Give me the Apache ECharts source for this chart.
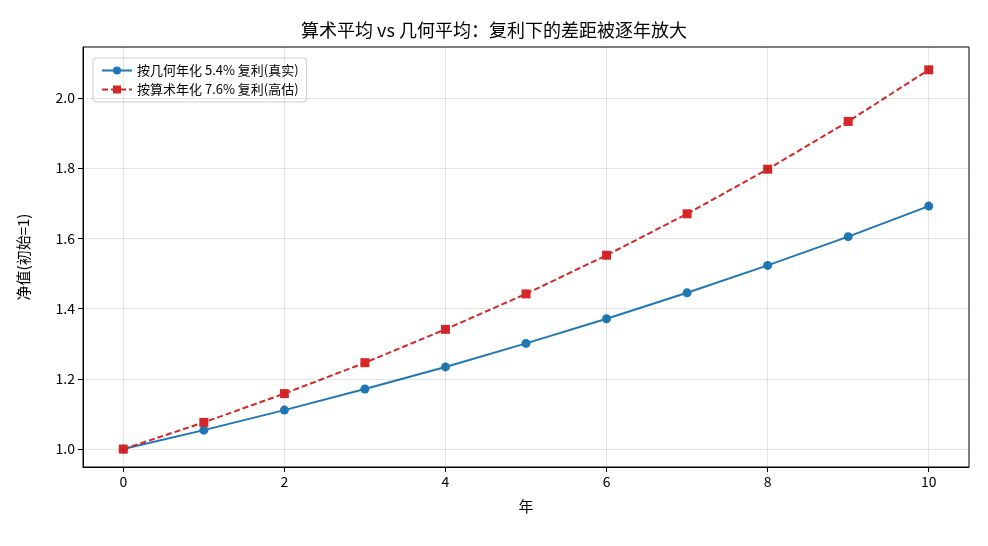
<!DOCTYPE html>
<html><head><meta charset="utf-8">
<script src="https://cdn.jsdelivr.net/npm/echarts@6/dist/echarts.min.js"></script>
<style>html,body{margin:0;padding:0;background:#fff}#c{width:988px;height:546px}</style>
</head><body><div id="c"></div>
<script>
const years = [0,1,2,3,4,5,6,7,8,9,10];
const geoValues = [1.0,1.054,1.111,1.171,1.234,1.301,1.371,1.445,1.523,1.605,1.692];
const ariValues = [1.0,1.076,1.158,1.246,1.341,1.442,1.552,1.670,1.797,1.933,2.080];
const xTicks = [0,2,4,6,8,10];
const yTicks = [1.0,1.2,1.4,1.6,1.8,2.0];
const geoName = '按几何年化 5.4% 复利(真实)';
const ariName = '按算术年化 7.6% 复利(高估)';
const F = '"Noto Sans CJK SC","DejaVu Sans",sans-serif';
const chart = echarts.init(document.getElementById('c'));
chart.setOption({
  animation:false,
  textStyle:{fontFamily:F},
  title:{text:'算术平均 vs 几何平均：复利下的差距被逐年放大',left:'center',top:16,textStyle:{fontSize:18,fontWeight:'normal',color:'#000',fontFamily:F}},
  legend:{left:93,top:58,orient:'vertical',itemGap:6,itemWidth:30,itemHeight:10,
    backgroundColor:'#fff',borderColor:'#ccc',borderWidth:1,borderRadius:3,padding:[6,8],
    textStyle:{fontSize:13,color:'#000'},
    data:[geoName,ariName]},
  grid:{left:83,right:19,top:47,bottom:79,show:true,borderColor:'#000',borderWidth:1,backgroundColor:'transparent'},
  xAxis:{type:'value',min:-0.5,max:10.5,
    name:'年',nameLocation:'middle',nameGap:32,nameTextStyle:{fontSize:15,color:'#000'},
    axisLine:{onZero:false,lineStyle:{color:'#000'}},
    axisLabel:{color:'#000',fontSize:14,customValues:xTicks},
    axisTick:{customValues:xTicks,lineStyle:{color:'#000'}},
    splitLine:{show:false}},
  yAxis:{type:'value',min:0.949,max:2.145,
    name:'净值(初始=1)',nameLocation:'middle',nameGap:52,nameTextStyle:{fontSize:15,color:'#000'},
    axisLine:{show:true,onZero:false,lineStyle:{color:'#000'}},
    axisLabel:{color:'#000',fontSize:14,customValues:yTicks,formatter:v=>v.toFixed(1)},
    axisTick:{show:true,customValues:yTicks,lineStyle:{color:'#000'}},
    splitLine:{show:false}},
  series:[
    {name:geoName,type:'line',data:years.map((x,i)=>[x,geoValues[i]]),symbol:'circle',symbolSize:9,
     lineStyle:{color:'#1f77b4',width:2},itemStyle:{color:'#1f77b4'},z:3},
    {name:ariName,type:'line',data:years.map((x,i)=>[x,ariValues[i]]),symbol:'rect',symbolSize:9,
     lineStyle:{color:'#d62728',width:2,type:[6,3]},itemStyle:{color:'#d62728'},z:4},
    {type:'line',data:[],silent:true,
     markLine:{silent:true,symbol:'none',label:{show:false},lineStyle:{color:'#000',opacity:0.1,width:1,type:'solid'},
       data:xTicks.map(v=>({xAxis:v})).concat(yTicks.map(v=>({yAxis:v})))}}
  ]
});
</script></body></html>
